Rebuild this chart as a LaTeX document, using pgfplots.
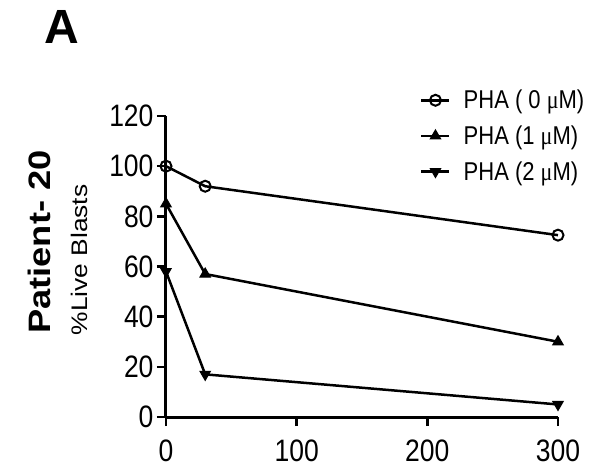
\documentclass[border=0pt]{standalone}
\usepackage{pgfplots}
\pgfplotsset{compat=1.18}
\usepackage{fontspec}
\usepackage{graphicx}
\setmainfont{Liberation Sans}
\newfontfamily\serifmu{Liberation Serif}
\newcommand\vs[1]{\scalebox{1}[1.17]{#1}}
\newcommand\hs[1]{\scalebox{1.17}[1]{#1}}
\begin{document}
\begin{tikzpicture}
\useasboundingbox (-166bp,-52bp) rectangle (429bp,417bp);
\begin{axis}[
  at={(0,0)}, anchor=south west,
  scale only axis, width=392bp, height=301bp,
  xmin=0, xmax=300, ymin=0, ymax=120,
  clip=false,
  axis x line*=bottom, axis y line*=left,
  axis line style={line width=3bp, black},
  xtick={0,100,200,300}, ytick={0,20,40,60,80,100,120},
  xticklabels={\vs{0},\vs{100},\vs{200},\vs{300}},
  yticklabels={\vs{0},\vs{20},\vs{40},\vs{60},\vs{80},\vs{100},\vs{120}},
  tick style={line width=2.5bp, black},
  major tick length=9bp, tick align=outside,
  ticklabel style={font=\fontsize{26.5bp}{30bp}\selectfont},
  xticklabel style={yshift=-10bp},
  legend style={at={(axis description cs:0.648,1.093)}, anchor=north west, draw=none, fill=none, inner sep=0pt,
    font=\fontsize{22bp}{26bp}\selectfont, row sep=11.5bp, legend cell align=left,
    /tikz/every odd column/.append style={column sep=11bp}},
  legend image code/.code={\draw[mark repeat=2,mark phase=2,#1] plot coordinates {(0bp,0bp) (14bp,0bp) (28bp,0bp)};},
  every axis plot/.append style={line width=2.5bp, black},
]
\addplot[mark=o, mark size=5.5bp, mark options={line width=2bp, fill=white}] coordinates {(0,100) (30,92) (300,72.5)};
\addlegendentry{\vs{PHA ( 0 {\serifmu μ}M)}}
\addplot[mark=triangle*, mark size=6bp, mark options={line width=1bp}] coordinates {(0,85) (30,57) (300,30)};
\addlegendentry{\vs{PHA (1 {\serifmu μ}M)}}
\addplot[mark=triangle*, mark size=6bp, mark options={rotate=180, line width=1bp}] coordinates {(0,58) (30,17) (300,5)};
\addlegendentry{\vs{PHA (2 {\serifmu μ}M)}}
\node[rotate=90, font=\fontsize{22.5bp}{26bp}\selectfont] at (axis description cs:-0.222,0.522) {\hs{\%Live Blasts}};
\node[rotate=90, font=\fontsize{31bp}{36bp}\selectfont\bfseries] at (axis description cs:-0.324,0.581) {\hs{Patient- 20}};
\node[font=\fontsize{48bp}{52bp}\selectfont\bfseries] at (axis description cs:-0.265,1.296) {A};
\end{axis}
\end{tikzpicture}
\end{document}
